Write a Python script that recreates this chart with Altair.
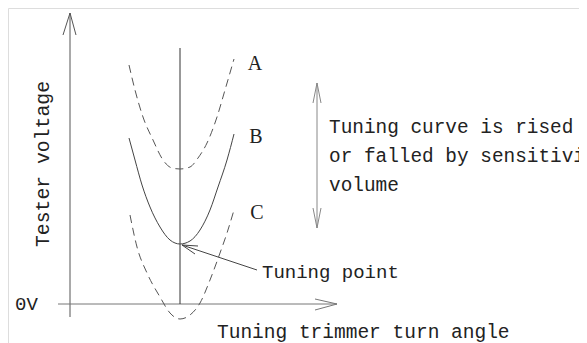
import altair as alt
import pandas as pd

# Coordinate units: x = trimmer turn angle (0 at tuning point), y = tester voltage (0 at 0V)
a_x = [-51, -45, -37, -27, -17, -8, 0, 10, 18, 27, 37, 45, 54]
a_y = [239, 214, 187, 164, 144, 136, 135, 137, 146, 161, 187, 214, 245]
b_x = [-51, -45, -38, -30, -20, -10, 0, 10, 20, 30, 38, 47, 54]
b_y = [166, 144, 119, 97, 77, 64, 60, 63, 74, 94, 117, 144, 170]
c_x = [-50, -43, -33, -20, -10, 0, 10, 20, 30, 40, 47, 54]
c_y = [89, 57, 31, 7, -9, -15, -11, 1, 24, 51, 71, 94]

# line pieces of the diagram: axes, centre line, pointers, arrow heads
seg_name = ["yaxis", "yh1", "yh2", "xaxis", "xh1", "xh2", "center",
            "ptr", "ph1", "ph2", "dbl", "dh1", "dh2", "dh3", "dh4"]
seg_x1 = [-110, -110, -110, -122, 157, 157, 0, 2, 2, 2, 137, 137, 137, 137, 137]
seg_y1 = [291, 291, 291, 0, 0, 0, 256, 59, 59, 59, 221, 221, 221, 76, 76]
seg_x2 = [-110, -117, -104, 157, 135, 135, 0, 77, 18, 15, 137, 133, 141, 133, 141]
seg_y2 = [-13, 269, 269, 0, 5, -6, 0, 34, 58, 50, 76, 201, 201, 96, 96]
seg_color = ["#555555", "#555555", "#555555", "#777777", "#777777", "#777777", "#333333",
             "#444444", "#444444", "#444444", "#888888", "#888888", "#888888", "#888888", "#888888"]

curve_labels = ["A", "B", "C"]
curve_label_x = [75, 76, 77]
curve_label_y = [240, 167, 91]

note_lines = ["Tuning curve is rised", "or falled by sensitivity", "volume"]
note_x = [149, 149, 149]
note_y = [177, 148, 119]

XD = [-172, 399]
YD = [-39, 296]
xs = alt.Scale(domain=XD, nice=False, zero=False)
ys = alt.Scale(domain=YD, nice=False, zero=False)
FONT = "Liberation Mono"
INK = "#222222"

dashed = pd.DataFrame({
    "x": a_x + c_x,
    "y": a_y + c_y,
    "curve": ["A"] * len(a_x) + ["C"] * len(c_x),
    "i": list(range(len(a_x))) + list(range(len(c_x))),
})
solid = pd.DataFrame({"x": b_x, "y": b_y, "i": list(range(len(b_x)))})
segs = pd.DataFrame({"name": seg_name, "x": seg_x1, "y": seg_y1,
                     "x2": seg_x2, "y2": seg_y2, "c": seg_color})

X = lambda f="x": alt.X(f, type="quantitative", scale=xs, axis=None)
Y = lambda f="y": alt.Y(f, type="quantitative", scale=ys, axis=None)

dash_layer = alt.Chart(dashed).mark_line(
    strokeDash=[8, 5], strokeWidth=1, color="#555555", interpolate="monotone"
).encode(x=X(), y=Y(), detail="curve:N", order="i:Q")

solid_layer = alt.Chart(solid).mark_line(
    strokeWidth=1, color="#444444", interpolate="monotone"
).encode(x=X(), y=Y(), order="i:Q")

seg_layer = alt.Chart(segs).mark_rule(strokeWidth=1).encode(
    x=X(), y=Y(), x2="x2:Q", y2="y2:Q", color=alt.Color("c:N", scale=None)
)

lab_df = pd.DataFrame({"t": curve_labels, "x": curve_label_x, "y": curve_label_y})
lab_layer = alt.Chart(lab_df).mark_text(
    font="Liberation Serif", fontSize=20, color=INK, align="center", baseline="middle"
).encode(x=X(), y=Y(), text="t:N")

note_df = pd.DataFrame({"t": note_lines, "x": note_x, "y": note_y})
note_layer = alt.Chart(note_df).mark_text(
    font=FONT, fontSize=19.4, color=INK, align="left", baseline="middle"
).encode(x=X(), y=Y(), text="t:N")

misc_text = ["0V", "Tuning point"]
misc_x = [-165, 82]
misc_y = [0, 32]
misc_df = pd.DataFrame({"t": misc_text, "x": misc_x, "y": misc_y})
misc_layer = alt.Chart(misc_df).mark_text(
    font=FONT, fontSize=19, color=INK, align="left", baseline="middle"
).encode(x=X(), y=Y(), text="t:N")

xtitle_df = pd.DataFrame({"t": ["Tuning trimmer turn angle"], "x": [37], "y": [-34]})
xtitle_layer = alt.Chart(xtitle_df).mark_text(
    font=FONT, fontSize=19.5, color=INK, align="left", baseline="alphabetic"
).encode(x=X(), y=Y(), text="t:N")

ytitle_df = pd.DataFrame({"t": ["Tester voltage"], "x": [-137], "y": [140]})
ytitle_layer = alt.Chart(ytitle_df).mark_text(
    font=FONT, fontSize=19.8, color=INK, align="center", baseline="middle", angle=270
).encode(x=X(), y=Y(), text="t:N")

chart = alt.layer(
    seg_layer, dash_layer, solid_layer, lab_layer, note_layer, misc_layer,
    xtitle_layer, ytitle_layer
).properties(
    width=571, height=335, padding=0, autosize=alt.AutoSizeParams(type="none")
).configure_view(stroke=None, clip=False).configure(background="white")

chart.save("out.html", embed_options={"renderer": "svg", "actions": False})
